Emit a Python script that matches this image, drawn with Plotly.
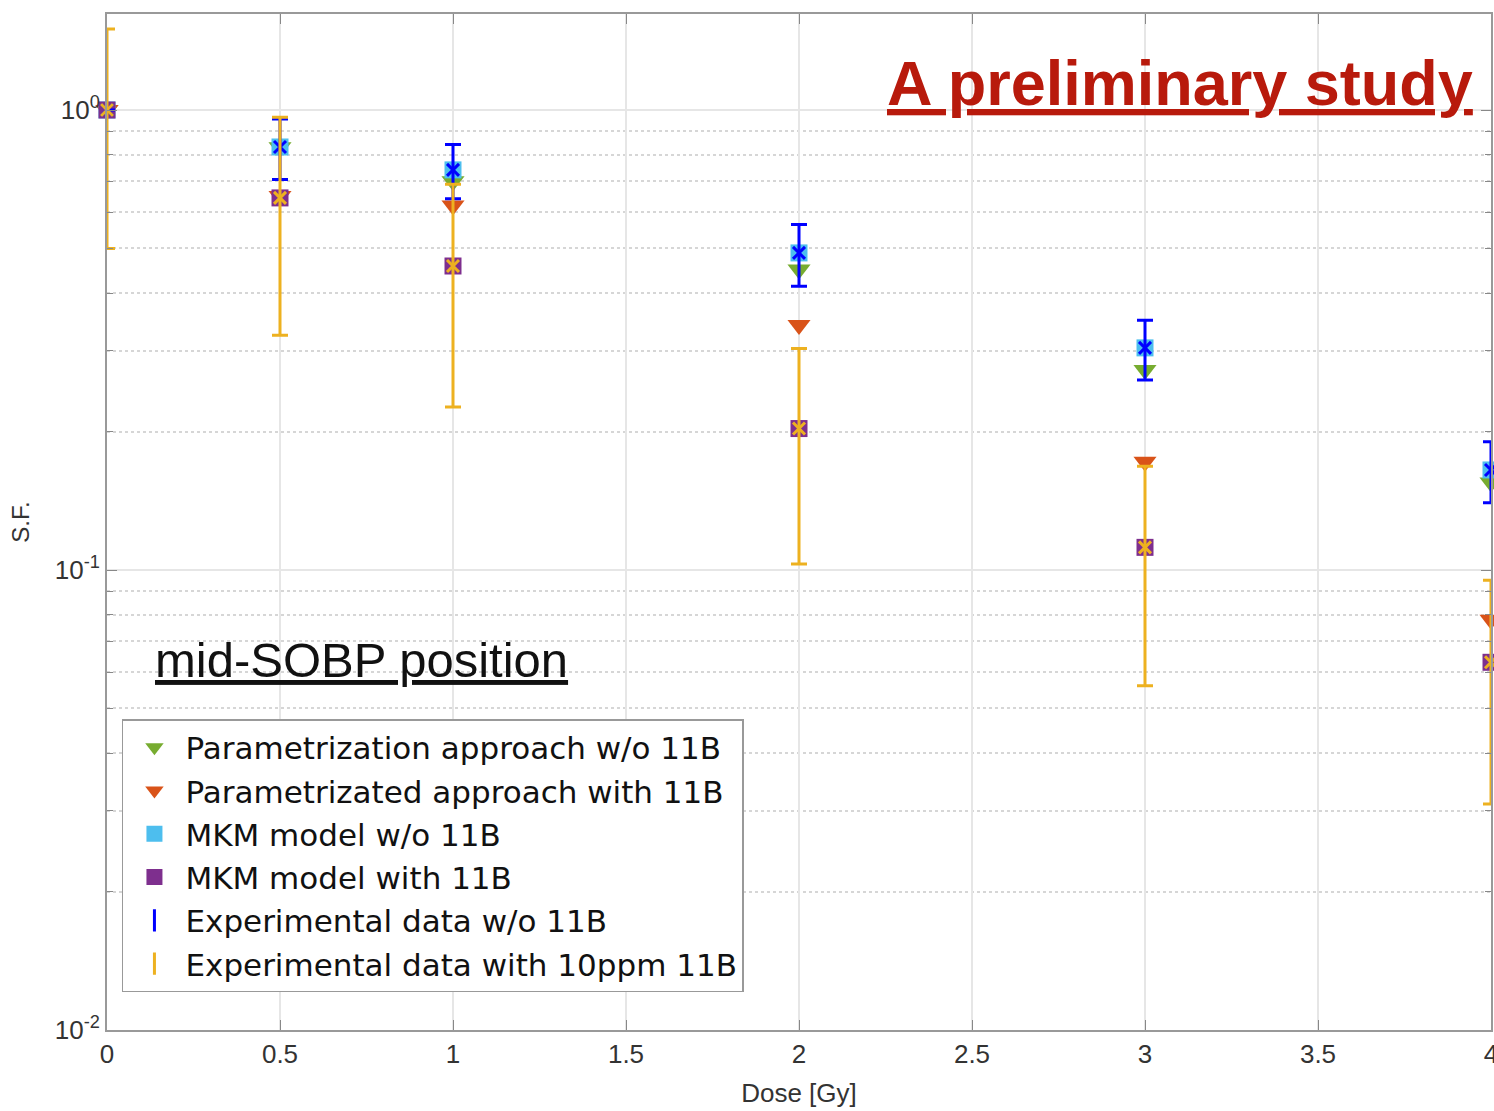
import plotly.graph_objects as go

dose = [0, 0.5, 1, 2, 3, 4]

param_wo = [1.0, 0.83, 0.70, 0.45, 0.272, 0.155]
param_with = [1.0, 0.65, 0.62, 0.341, 0.172, 0.078]
mkm_wo = [1.0, 0.831, 0.741, 0.489, 0.304, 0.165]
mkm_with = [1.0, 0.644, 0.458, 0.203, 0.112, 0.063]
exp_wo = [1.0, 0.831, 0.741, 0.489, 0.304, 0.165]
exp_wo_err = [0.0, 0.125, 0.10, 0.075, 0.045, 0.025]
exp_with = [1.0, 0.644, 0.458, 0.203, 0.112, 0.063]
exp_with_err = [0.5, 0.32, 0.232, 0.10, 0.056, 0.032]

names = [
    "Parametrization approach w/o 11B",
    "Parametrizated approach with 11B",
    "MKM model w/o 11B",
    "MKM model with 11B",
    "Experimental data w/o 11B",
    "Experimental data with 10ppm 11B",
]
colors = ["#77AC30", "#D95319", "#4DBEEE", "#7E2F8E", "#0000FF", "#EDB120"]

x_ticks = [0, 0.5, 1, 1.5, 2, 2.5, 3, 3.5, 4]
x_ticktext = ["0", "0.5", "1", "1.5", "2", "2.5", "3", "3.5", "4"]
y_ticks = [0.01, 0.1, 1]
y_ticktext = ["10<sup>-2</sup>", "10<sup>-1</sup>", "10<sup>0</sup>"]
y_minor = [m * d for d in (0.01, 0.1, 1) for m in range(2, 10)]

FONT = "Liberation Sans, Arial, Helvetica, sans-serif"

fig = go.Figure()

fig.add_trace(go.Scatter(x=dose, y=param_wo, mode="markers", name=names[0],
                         marker=dict(symbol="triangle-down", size=20, color=colors[0]),
                         cliponaxis=False))
fig.add_trace(go.Scatter(x=dose, y=param_with, mode="markers", name=names[1],
                         marker=dict(symbol="triangle-down", size=20, color=colors[1]),
                         cliponaxis=False))
fig.add_trace(go.Scatter(x=dose, y=mkm_wo, mode="markers", name=names[2],
                         marker=dict(symbol="square", size=17, color=colors[2]),
                         cliponaxis=False))
fig.add_trace(go.Scatter(x=dose, y=mkm_with, mode="markers", name=names[3],
                         marker=dict(symbol="square", size=17, color=colors[3]),
                         cliponaxis=False))
fig.add_trace(go.Scatter(x=dose, y=exp_wo, mode="markers", name=names[4], showlegend=False,
                         marker=dict(symbol="x-thin", size=12, color=colors[4],
                                     line=dict(width=3, color=colors[4])),
                         error_y=dict(type="data", array=exp_wo_err, visible=True,
                                      color=colors[4], thickness=3, width=8),
                         cliponaxis=False))
fig.add_trace(go.Scatter(x=dose, y=exp_with, mode="markers", name=names[5], showlegend=False,
                         marker=dict(symbol="x-thin", size=12, color=colors[5],
                                     line=dict(width=3, color=colors[5])),
                         error_y=dict(type="data", array=exp_with_err, visible=True,
                                      color=colors[5], thickness=3, width=8),
                         cliponaxis=False))
# legend entries for the experimental series (error-bar style icon)
for nm, c in ((names[4], colors[4]), (names[5], colors[5])):
    fig.add_trace(go.Scatter(x=[None], y=[None], mode="markers", name=nm,
                             marker=dict(symbol="line-ns-open", size=24, color=c,
                                         line=dict(width=3, color=c))))

fig.update_layout(
    width=1494, height=1111,
    margin=dict(l=107, r=3, t=14, b=81, autoexpand=False),
    paper_bgcolor="white", plot_bgcolor="white",
    font=dict(family=FONT, color="#222"),
    showlegend=True,
    legend=dict(x=0.0108, y=0.0374, xanchor="left", yanchor="bottom",
                bgcolor="white", bordercolor="#999", borderwidth=1.5,
                font=dict(size=31, color="#111", family="DejaVu Sans, " + FONT),
                itemwidth=52, tracegroupgap=0),
    xaxis=dict(range=[0, 4], tickmode="array", tickvals=x_ticks, ticktext=x_ticktext,
               automargin=False,
               showgrid=True, gridcolor="#e6e6e6", gridwidth=1.5,
               showline=True, linecolor="#999", linewidth=2, mirror="ticks",
               ticks="inside", ticklen=10, tickcolor="#888", ticklabeloverflow="allow",
               tickfont=dict(size=26, color="#333"), zeroline=False,
               title=dict(text="Dose [Gy]", font=dict(size=26, color="#333"), standoff=16)),
    yaxis=dict(type="log", range=[-2, 0.2087], tickmode="array", tickvals=y_ticks,
               ticktext=y_ticktext, automargin=False,
               showgrid=True, gridcolor="#e6e6e6", gridwidth=1.5,
               showline=True, linecolor="#999", linewidth=2, mirror="ticks",
               ticks="inside", ticklen=10, tickcolor="#888",
               tickfont=dict(size=26, color="#333"), zeroline=False,
               minor=dict(tickmode="array", tickvals=y_minor, ticks="inside", ticklen=6,
                          tickcolor="#888", showgrid=True, gridcolor="#d6d6d6",
                          griddash="dot", gridwidth=1.5),
               title=dict(text="S.F.", font=dict(size=24, color="#333"), standoff=18)),
)

fig.add_annotation(xref="paper", yref="paper", x=0.9884, y=0.932, xanchor="right", yanchor="middle",
                   text="<u><b>A preliminary study</b></u>", showarrow=False,
                   font=dict(size=63, color="#B81A0C", family=FONT))
fig.add_annotation(xref="paper", yref="paper", x=0.0332, y=0.364, xanchor="left", yanchor="middle",
                   text="<u>mid-SOBP position</u>", showarrow=False,
                   font=dict(size=49, color="#111", family=FONT))

# remove the default page margin so the figure fills the 1494x1111 window exactly
fig.write_html("out.html", config={"displayModeBar": False},
               post_script="document.body.style.margin='0';document.body.style.overflow='hidden';")
